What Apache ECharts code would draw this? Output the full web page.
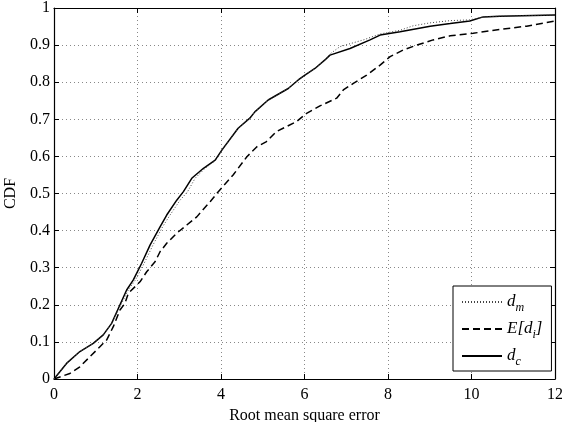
<!DOCTYPE html>
<html>
<head>
<meta charset="utf-8">
<script src="https://cdn.jsdelivr.net/npm/echarts@6/dist/echarts.min.js"></script>
<style>
  html, body { margin: 0; padding: 0; background: #fff; }
  #chart { width: 562px; height: 422px; }
</style>
</head>
<body>
<div id="chart"></div>
<script>
// values
const dcX = [0, 0.3, 0.62, 0.94, 1.18, 1.38, 1.54, 1.74, 1.9, 2.1, 2.3, 2.54, 2.7, 2.94, 3.1, 3.3, 3.58, 3.86, 4.02, 4.41, 4.69, 4.81, 5.13, 5.61, 5.85, 6.01, 6.25, 6.49, 6.61, 7.09, 7.57, 7.81, 8.29, 9.01, 9.49, 9.96, 10.28, 10.68, 12];
const dcY = [0, 0.042, 0.074, 0.096, 0.119, 0.15, 0.19, 0.24, 0.267, 0.312, 0.361, 0.41, 0.442, 0.482, 0.505, 0.541, 0.568, 0.59, 0.617, 0.676, 0.703, 0.72, 0.752, 0.783, 0.806, 0.819, 0.837, 0.86, 0.873, 0.891, 0.914, 0.927, 0.936, 0.951, 0.958, 0.965, 0.976, 0.978, 0.981];

const dmX = [0, 0.3, 0.62, 0.94, 1.18, 1.38, 1.56, 1.78, 1.95, 2.16, 2.37, 2.6, 2.78, 3.02, 3.2, 3.38, 3.62, 3.88, 4.03, 4.41, 4.69, 4.81, 5.13, 5.61, 5.85, 6.01, 6.25, 6.49, 6.61, 6.85, 7.41, 7.81, 8.29, 8.6, 9.01, 9.49, 9.96, 10.28, 10.68, 12];
const dmY = [0, 0.042, 0.074, 0.096, 0.119, 0.15, 0.19, 0.24, 0.267, 0.312, 0.361, 0.41, 0.442, 0.482, 0.505, 0.541, 0.568, 0.59, 0.617, 0.676, 0.703, 0.72, 0.752, 0.783, 0.806, 0.819, 0.837, 0.86, 0.876, 0.896, 0.914, 0.93, 0.94, 0.952, 0.96, 0.966, 0.968, 0.976, 0.978, 0.981];

const eiX = [0, 0.38, 0.62, 0.86, 1.1, 1.26, 1.42, 1.58, 1.7, 1.78, 2.06, 2.22, 2.42, 2.54, 2.7, 2.94, 3.18, 3.42, 3.74, 3.9, 4.29, 4.62, 4.86, 5.09, 5.33, 5.81, 6.05, 6.37, 6.77, 6.93, 7.17, 7.49, 7.81, 8.05, 8.37, 8.69, 9.08, 9.49, 10.04, 10.68, 11.32, 12];
const eiY = [0, 0.015, 0.033, 0.06, 0.087, 0.105, 0.141, 0.186, 0.204, 0.231, 0.262, 0.289, 0.316, 0.343, 0.366, 0.393, 0.415, 0.437, 0.478, 0.5, 0.55, 0.599, 0.626, 0.64, 0.667, 0.694, 0.716, 0.736, 0.757, 0.779, 0.797, 0.819, 0.846, 0.869, 0.887, 0.9, 0.914, 0.925, 0.932, 0.942, 0.951, 0.965];

const seriesNames = ['d_m', 'E[d_i]', 'd_c'];
const legendLabels = {
    'd_m': '{i|d}{s|m}',
    'E[d_i]': '{i|E[d}{s|i}{i|]}',
    'd_c': '{i|d}{s|c}'
};

function pairs(xs, ys) {
    return xs.map((x, k) => [x, ys[k]]);
}

const font = 'Liberation Serif, Times New Roman, serif';
const chart = echarts.init(document.getElementById('chart'));

const gridLine = { show: true, lineStyle: { color: '#888', type: [1, 3], width: 1 } };
const tickIn = { show: true, inside: true, length: 5, lineStyle: { color: '#000' } };

chart.setOption({
    animation: false,
    backgroundColor: '#fff',
    grid: { left: 54, right: 7, top: 8, bottom: 43, outerBoundsMode: 'none', containLabel: false },
    xAxis: [
        {
            type: 'value', min: 0, max: 12, interval: 2,
            name: 'Root mean square error', nameLocation: 'middle', nameGap: 25,
            nameTextStyle: { fontFamily: font, fontSize: 16, color: '#000' },
            axisLine: { show: true, lineStyle: { color: '#000', width: 1.2 } },
            axisTick: tickIn,
            axisLabel: { fontFamily: font, fontSize: 16, color: '#000', margin: 8 },
            splitLine: gridLine
        },
        {
            type: 'value', min: 0, max: 12, interval: 2, position: 'top',
            axisLine: { show: true, onZero: false, lineStyle: { color: '#000', width: 1.2 } },
            axisTick: tickIn, axisLabel: { show: false }, splitLine: { show: false }
        }
    ],
    yAxis: [
        {
            type: 'value', min: 0, max: 1, interval: 0.1,
            name: 'CDF', nameLocation: 'middle', nameGap: 32, nameRotate: 90,
            nameTextStyle: { fontFamily: font, fontSize: 16, color: '#000' },
            axisLine: { show: true, lineStyle: { color: '#000', width: 1.2 } },
            axisTick: tickIn,
            axisLabel: { fontFamily: font, fontSize: 16, color: '#000', margin: 4 },
            splitLine: gridLine
        },
        {
            type: 'value', min: 0, max: 1, interval: 0.1, position: 'right',
            axisLine: { show: true, onZero: false, lineStyle: { color: '#000', width: 1.2 } },
            axisTick: tickIn, axisLabel: { show: false }, splitLine: { show: false }
        }
    ],
    legend: {
        orient: 'vertical',
        left: 453, top: 286,
        padding: [4, 9, 3, 8],
        itemGap: 3,
        itemWidth: 40, itemHeight: 14,
        backgroundColor: '#fff',
        borderColor: '#000', borderWidth: 1, borderRadius: 0,
        itemStyle: { opacity: 0 },
        data: seriesNames,
        formatter: name => legendLabels[name],
        textStyle: {
            fontFamily: font, color: '#000',
            rich: {
                i: { fontFamily: font, fontStyle: 'italic', fontSize: 17, color: '#000', lineHeight: 22 },
                s: { fontFamily: font, fontStyle: 'italic', fontSize: 12, color: '#000', padding: [12, 0, 0, 0], lineHeight: 22 }
            }
        }
    },
    series: [
        {
            name: 'd_m', type: 'line', showSymbol: false, symbol: 'none',
            itemStyle: { color: '#444' },
            lineStyle: { color: '#444', width: 1, type: [1, 2] },
            data: pairs(dmX, dmY), z: 3
        },
        {
            name: 'E[d_i]', type: 'line', showSymbol: false, symbol: 'none',
            itemStyle: { color: '#000' },
            lineStyle: { color: '#000', width: 1.5, type: [7, 4] },
            data: pairs(eiX, eiY), z: 2
        },
        {
            name: 'd_c', type: 'line', showSymbol: false, symbol: 'none',
            itemStyle: { color: '#000' },
            lineStyle: { color: '#000', width: 1.5, type: 'solid' },
            data: pairs(dcX, dcY), z: 2
        }
    ]
});
</script>
</body>
</html>
